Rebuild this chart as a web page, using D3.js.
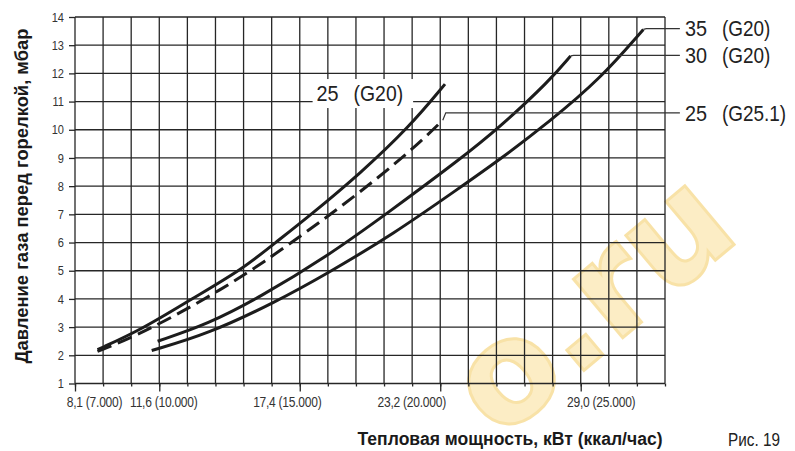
<!DOCTYPE html>
<html>
<head>
<meta charset="utf-8">
<script src="https://cdn.jsdelivr.net/npm/d3@7"></script>
<style>
body { margin: 0; background: #fff; }
svg { display: block; }
text { font-family: "Liberation Sans", Arial, sans-serif; }
</style>
</head>
<body>
<script>
// тепловая мощность в ккал/час, давление в мбар
var xMin = 7000, xMax = 28000;
var yMin = 1, yMax = 14;
var xMajorTicks = [7000, 10000, 15000, 20000, 25000];
var xMajorLabels = ['8,1 (7.000)', '11,6 (10.000)', '17,4 (15.000)', '23,2 (20.000)', '29,0 (25.000)'];
var yTicks = [1, 2, 3, 4, 5, 6, 7, 8, 9, 10, 11, 12, 13, 14];

// 25 (G20)
var g20_25_kcal = [7800, 9400, 11150, 12950, 14100, 15350, 17150, 18900, 20170];
var g20_25_mbar = [2.2, 2.93, 4.0, 5.05, 5.97, 6.95, 8.45, 10.1, 11.62];
// 25 (G25.1), пунктир
var g251_25_kcal = [7800, 8780, 10440, 12220, 13580, 15960, 17740, 19280, 20090];
var g251_25_mbar = [2.14, 2.52, 3.33, 4.35, 5.2, 6.89, 8.25, 9.55, 10.34];
// 30 (G20)
var g20_30_kcal = [9940, 11740, 13580, 15960, 18090, 20700, 22130, 23900, 24640];
var g20_30_mbar = [2.5, 3.11, 4.06, 5.5, 7.02, 8.95, 10.1, 11.75, 12.62];
// 35 (G20)
var g20_35_kcal = [9730, 11740, 14120, 15960, 18330, 20700, 22130, 23900, 25690, 27230];
var g20_35_mbar = [2.17, 2.76, 3.88, 4.89, 6.3, 7.95, 8.95, 10.3, 11.8, 13.56];

var curveNames = ['25', '25', '30', '35'];
var curveGas = ['(G20)', '(G25.1)', '(G20)', '(G20)'];
var curveDashed = [false, true, false, false];
var leaderMbar = [null, 10.6, 12.64, 13.59];

var series = [
	d3.zip(g20_25_kcal, g20_25_mbar),
	d3.zip(g251_25_kcal, g251_25_mbar),
	d3.zip(g20_30_kcal, g20_30_mbar),
	d3.zip(g20_35_kcal, g20_35_mbar)
];

// узкий шрифт (Arial Narrow нет) - сжимаем по ширине
var narrow = function(sel, k) {
	sel.each(function() {
		var w = this.getComputedTextLength();
		d3.select(this)
			.attr('textLength', w * k)
			.attr('lengthAdjust', 'spacingAndGlyphs');
	});
};

var svg = d3.select('body')
	.append('svg')
	.attr('width', 795)
	.attr('height', 451);

var x = d3.scaleLinear().domain([xMin, xMax]).range([75, 665]);
var y = d3.scaleLinear().domain([yMin, yMax]).range([383.5, 17]);

// водяной знак (под сеткой)
svg.append('text')
	.attr('transform', 'translate(590,302) rotate(-40)')
	.style('text-anchor', 'middle')
	.style('dominant-baseline', 'central')
	.style('font-family', '"DejaVu Sans", sans-serif')
	.style('font-weight', 'bold')
	.style('font-size', '140px')
	.style('fill', '#fbe2a0')
	.style('stroke', '#f5cf6e')
	.style('stroke-width', 3)
	.style('opacity', 0.6)
	.text('o.ru');

// GRID
var grid = svg.append('g')
	.style('stroke', '#262626')
	.style('stroke-width', 1.3);
grid.selectAll('.v')
	.data(d3.range(xMin, xMax + 1, 1000))
	.enter().append('line')
	.attr('x1', x).attr('x2', x)
	.attr('y1', y(yMin)).attr('y2', y(yMax));
grid.selectAll('.h')
	.data(yTicks)
	.enter().append('line')
	.attr('x1', x(xMin)).attr('x2', x(xMax))
	.attr('y1', y).attr('y2', y);

// AXES
var xMinor = d3.axisBottom(x)
	.tickValues(d3.range(xMin, xMax + 1, 1000))
	.tickSize(3)
	.tickSizeOuter(0)
	.tickFormat('');
svg.append('g')
	.attr('transform', 'translate(0,' + y(yMin) + ')')
	.call(xMinor)
	.call(function(g) { g.select('.domain').remove(); });

var labelDx = [19, 4, -13, -29, 20];
var xMajor = d3.axisBottom(x)
	.tickValues(xMajorTicks)
	.tickSize(8)
	.tickSizeOuter(0)
	.tickPadding(6)
	.tickFormat(function(d, i) { return xMajorLabels[i]; });
var gx = svg.append('g')
	.attr('transform', 'translate(0,' + y(yMin) + ')')
	.call(xMajor);
gx.select('.domain').remove();
gx.selectAll('text')
	.attr('dx', function(d, i) { return labelDx[i]; })
	.style('font-size', '14px')
	.style('letter-spacing', '-0.3px')
	.style('fill', '#333')
	.call(narrow, 0.86);

var yAxis = d3.axisLeft(y)
	.tickValues(yTicks)
	.tickSize(6)
	.tickSizeOuter(0)
	.tickPadding(5);
var gy = svg.append('g')
	.attr('transform', 'translate(' + x(xMin) + ',0)')
	.call(yAxis);
gy.select('.domain').remove();
gy.selectAll('text')
	.style('font-size', '13px')
	.style('fill', '#333')
	.call(narrow, 0.85);
svg.selectAll('.tick line').style('stroke', '#262626').style('stroke-width', 1.3);

// CURVES
var line = d3.line()
	.x(function(d) { return x(d[0]); })
	.y(function(d) { return y(d[1]); })
	.curve(d3.curveBasis);

svg.selectAll('.curve')
	.data(series)
	.enter().append('path')
	.classed('curve', true)
	.attr('d', line)
	.style('fill', 'none')
	.style('stroke', '#1c1c1c')
	.style('stroke-width', 3)
	.style('stroke-dasharray', function(d, i) { return curveDashed[i] ? '15,7' : null; });

// LEADERS + LABELS
var leaderEnd = 28530;
series.forEach(function(s, i) {
	if (leaderMbar[i] === null) return;
	var last = s[s.length - 1];
	var pts = [[x(last[0]), y(last[1])], [x(last[0]) + 3, y(leaderMbar[i])], [x(leaderEnd), y(leaderMbar[i])]];
	svg.append('path')
		.attr('d', d3.line()(pts))
		.style('fill', 'none')
		.style('stroke', '#333')
		.style('stroke-width', 1.2);
	var lx = x(leaderEnd) + 5, ly = y(leaderMbar[i]);
	svg.append('text').attr('x', lx).attr('y', ly).attr('dy', '0.36em')
		.style('font-size', '22px').style('fill', '#222').text(curveNames[i])
		.call(narrow, 0.9);
	svg.append('text').attr('x', lx + 37).attr('y', ly).attr('dy', '0.36em')
		.style('font-size', '22px').style('fill', '#222').text(curveGas[i])
		.call(narrow, 0.86);
});

// подпись 25 (G20) на белой подложке
var lab = svg.append('g');
var bg = lab.append('rect').style('fill', '#fff');
lab.append('text').attr('x', x(15600)).attr('y', y(11.3)).attr('dy', '0.36em')
	.style('font-size', '22px').style('fill', '#222').text(curveNames[0])
	.call(narrow, 0.9);
lab.append('text').attr('x', x(15600) + 37).attr('y', y(11.3)).attr('dy', '0.36em')
	.style('font-size', '22px').style('fill', '#222').text(curveGas[0])
	.call(narrow, 0.88);
var bb = lab.node().getBBox();
bg.attr('x', bb.x - 4).attr('y', bb.y - 2).attr('width', bb.width + 14).attr('height', bb.height + 4);

// AXIS TITLES
svg.append('text')
	.attr('transform', 'translate(22,196) rotate(-90)')
	.attr('dy', '0.36em')
	.style('text-anchor', 'middle')
	.style('font-size', '18px')
	.style('font-weight', 'bold')
	.style('fill', '#1a1a1a')
	.attr('textLength', 335)
	.attr('lengthAdjust', 'spacingAndGlyphs')
	.text('Давление газа перед горелкой, мбар');
svg.append('text')
	.attr('x', 510).attr('y', 445)
	.style('text-anchor', 'middle')
	.style('font-size', '18px')
	.style('font-weight', 'bold')
	.style('fill', '#1a1a1a')
	.attr('textLength', 305)
	.attr('lengthAdjust', 'spacingAndGlyphs')
	.text('Тепловая мощность, кВт (ккал/час)');
svg.append('text')
	.attr('x', 728).attr('y', 446)
	.style('font-size', '18px')
	.style('fill', '#222')
	.text('Рис. 19')
	.call(narrow, 0.85);
</script>
</body>
</html>
